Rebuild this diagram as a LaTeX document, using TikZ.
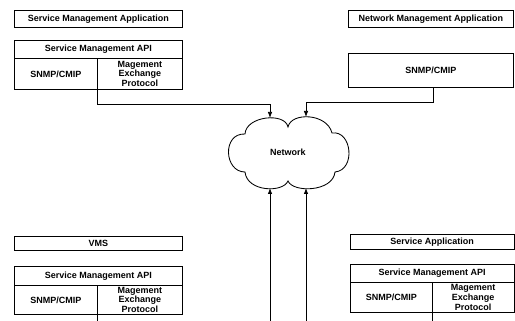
\documentclass[tikz,border=0pt]{standalone}
\usepackage{fontspec}
\setmainfont{Liberation Sans}
\usetikzlibrary{arrows.meta}
\tikzset{
  box/.style={draw, line width=0.75pt, inner sep=0pt, anchor=north west, align=center,
    font=\bfseries\fontsize{9}{9.6}\selectfont},
  conn/.style={draw, line width=0.75pt, -{Latex[length=6pt,width=4.5pt]}},
  plain/.style={draw, line width=0.75pt},
  cloudline/.style={draw, line width=0.85pt}
}
\begin{document}
\begin{tikzpicture}[x=1pt, y=-1pt]
\useasboundingbox (0,0) rectangle (515,321);

% upper left stack
\node[box, minimum width=168pt, minimum height=17pt] (sma) at (14,10) {Service Management Application};
\node[box, minimum width=168pt, minimum height=18pt] (api1) at (14,40) {Service Management API};
\node[box, minimum width=83pt, minimum height=31pt] (snmp1) at (14,58) {SNMP/CMIP};
\node[box, minimum width=85pt, minimum height=31pt] (mep1) at (97,58) {Magement\\Exchange\\Protocol};

% upper right stack
\node[box, minimum width=165pt, minimum height=17pt] (nma) at (348,10) {Network Management Application};
\node[box, minimum width=165pt, minimum height=34pt] (snmp2) at (348,53) {SNMP/CMIP};

% lower left stack
\node[box, minimum width=168pt, minimum height=14pt] (vms) at (14,236) {VMS};
\node[box, minimum width=168pt, minimum height=19pt] (api3) at (14,266) {Service Management API};
\node[box, minimum width=83pt, minimum height=29pt] (snmp3) at (14,285) {SNMP/CMIP};
\node[box, minimum width=85pt, minimum height=29pt] (mep3) at (97,285) {Magement\\Exchange\\Protocol};

% lower right stack
\node[box, minimum width=163.5pt, minimum height=15pt] (sa) at (350,234) {Service Application};
\node[box, minimum width=163.5pt, minimum height=18pt] (api4) at (350,264) {Service Management API};
\node[box, minimum width=82pt, minimum height=30pt] (snmp4) at (350,282) {SNMP/CMIP};
\node[box, minimum width=81.5pt, minimum height=30pt] (mep4) at (432,282) {Magement\\Exchange\\Protocol};

% network cloud
\path[cloudline] (245,134)
  .. controls (246,116) and (285,112) .. (288,127)
  .. controls (291,112) and (327,113) .. (332,133)
  .. controls (352,130) and (356,170) .. (335,172)
  .. controls (333,192) and (293,193) .. (288,181)
  .. controls (283,193) and (247,192) .. (245,172)
  .. controls (224,172) and (222,133) .. (245,134) -- cycle;
\node[font=\bfseries\fontsize{9}{9.6}\selectfont] (net) at (288,152) {Network};
\coordinate (cloudtl) at (270,118);
\coordinate (cloudtr) at (306,117);
\coordinate (cloudbl) at (270,188);
\coordinate (cloudbr) at (306,188);

% links leaving the picture at the bottom
\coordinate (inbl) at (270,321);
\coordinate (inbr) at (306,321);
\coordinate (out3) at (97,321);
\coordinate (out4) at (432,321);

% connectors
\draw[conn] (mep1.south west) -- ++(0,15) -| (cloudtl);
\draw[conn] ([xshift=2pt]snmp2.south) -- ++(0,15) -| (cloudtr);
\draw[conn] (inbl) -- (cloudbl);
\draw[conn] (inbr) -- (cloudbr);
\draw[plain] (mep3.south west) -- (out3);
\draw[plain] (mep4.south west) -- (out4);
\end{tikzpicture}
\end{document}
